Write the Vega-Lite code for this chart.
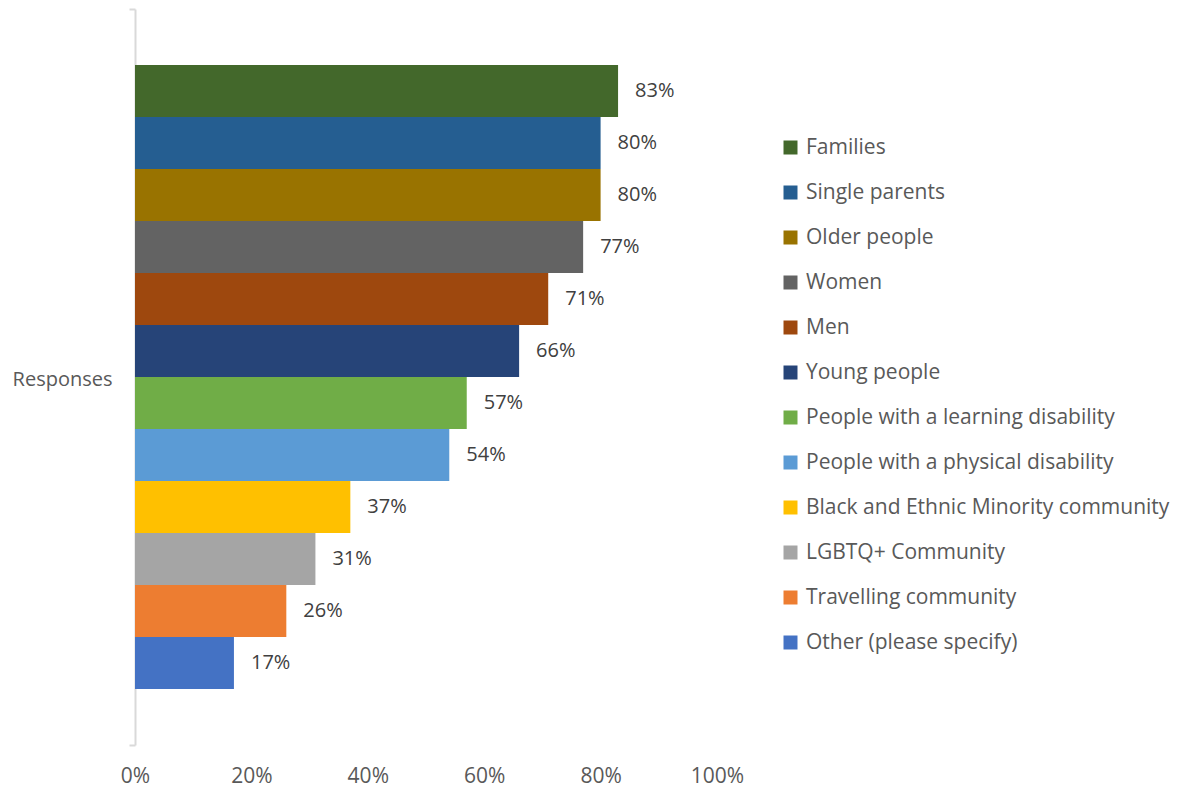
{
  "$schema": "https://vega.github.io/schema/vega-lite/v6.json",
  "autosize": "none",
  "width": 582,
  "height": 736,
  "padding": {"left": 135, "top": 9, "right": 461, "bottom": 47},
  "background": "white",
  "config": {"view": {"stroke": null}, "font": "Open Sans"},
  "data": {
    "values": [
      {"cat": "Responses", "group": "Families", "order": 1, "value": 0.83},
      {"cat": "Responses", "group": "Single parents", "order": 2, "value": 0.80},
      {"cat": "Responses", "group": "Older people", "order": 3, "value": 0.80},
      {"cat": "Responses", "group": "Women", "order": 4, "value": 0.77},
      {"cat": "Responses", "group": "Men", "order": 5, "value": 0.71},
      {"cat": "Responses", "group": "Young people", "order": 6, "value": 0.66},
      {"cat": "Responses", "group": "People with a learning disability", "order": 7, "value": 0.57},
      {"cat": "Responses", "group": "People with a physical disability", "order": 8, "value": 0.54},
      {"cat": "Responses", "group": "Black and Ethnic Minority community", "order": 9, "value": 0.37},
      {"cat": "Responses", "group": "LGBTQ+ Community", "order": 10, "value": 0.31},
      {"cat": "Responses", "group": "Travelling community", "order": 11, "value": 0.26},
      {"cat": "Responses", "group": "Other (please specify)", "order": 12, "value": 0.17}
    ]
  },
  "encoding": {
    "y": {
      "field": "cat", "type": "nominal", "title": null,
      "scale": {"paddingInner": 0, "paddingOuter": 0},
      "axis": {
        "domainColor": "#d9d9d9", "domainWidth": 2, "tickColor": "#d9d9d9", "tickWidth": 2,
        "tickSize": 6, "tickBand": "extent", "labelPadding": 17, "labelFontSize": 20,
        "labelColor": "#595959", "labelFont": "Open Sans", "labelOffset": 2
      }
    },
    "yOffset": {
      "field": "group", "type": "nominal",
      "scale": {
        "domain": ["_top", "Families", "Single parents", "Older people", "Women", "Men", "Young people", "People with a learning disability", "People with a physical disability", "Black and Ethnic Minority community", "LGBTQ+ Community", "Travelling community", "Other (please specify)", "_bottom"],
        "paddingInner": 0, "paddingOuter": 0.077
      }
    },
    "x": {
      "field": "value", "type": "quantitative", "title": null,
      "scale": {"domain": [0, 1], "nice": false},
      "axis": {
        "values": [0, 0.2, 0.4, 0.6, 0.8, 1], "format": ".0%", "domain": false, "ticks": false,
        "grid": false, "labelPadding": 20, "labelFontSize": 21, "labelColor": "#595959",
        "labelFont": "Open Sans", "labelFlush": false
      }
    }
  },
  "layer": [
    {
      "mark": {"type": "bar"},
      "encoding": {
        "color": {
          "field": "group", "type": "nominal", "title": null,
          "scale": {
            "domain": ["Families", "Single parents", "Older people", "Women", "Men", "Young people", "People with a learning disability", "People with a physical disability", "Black and Ethnic Minority community", "LGBTQ+ Community", "Travelling community", "Other (please specify)"],
            "range": ["#43682b", "#255e91", "#997300", "#636363", "#9e480e", "#264478", "#70ad47", "#5b9bd5", "#ffc000", "#a5a5a5", "#ed7d31", "#4472c4"]
          },
          "legend": {
            "orient": "none", "legendX": 645, "legendY": 128,
            "symbolType": "square", "symbolSize": 196, "symbolStrokeWidth": 0,
            "labelFontSize": 21, "labelColor": "#595959", "labelFont": "Open Sans",
            "rowPadding": 23, "labelOffset": 5, "labelLimit": 500
          }
        }
      }
    },
    {
      "mark": {"type": "text", "align": "left", "baseline": "middle", "dx": 17, "fontSize": 20, "color": "#404040", "font": "Open Sans"},
      "encoding": {
        "text": {"field": "value", "type": "quantitative", "format": ".0%"}
      }
    }
  ]
}
